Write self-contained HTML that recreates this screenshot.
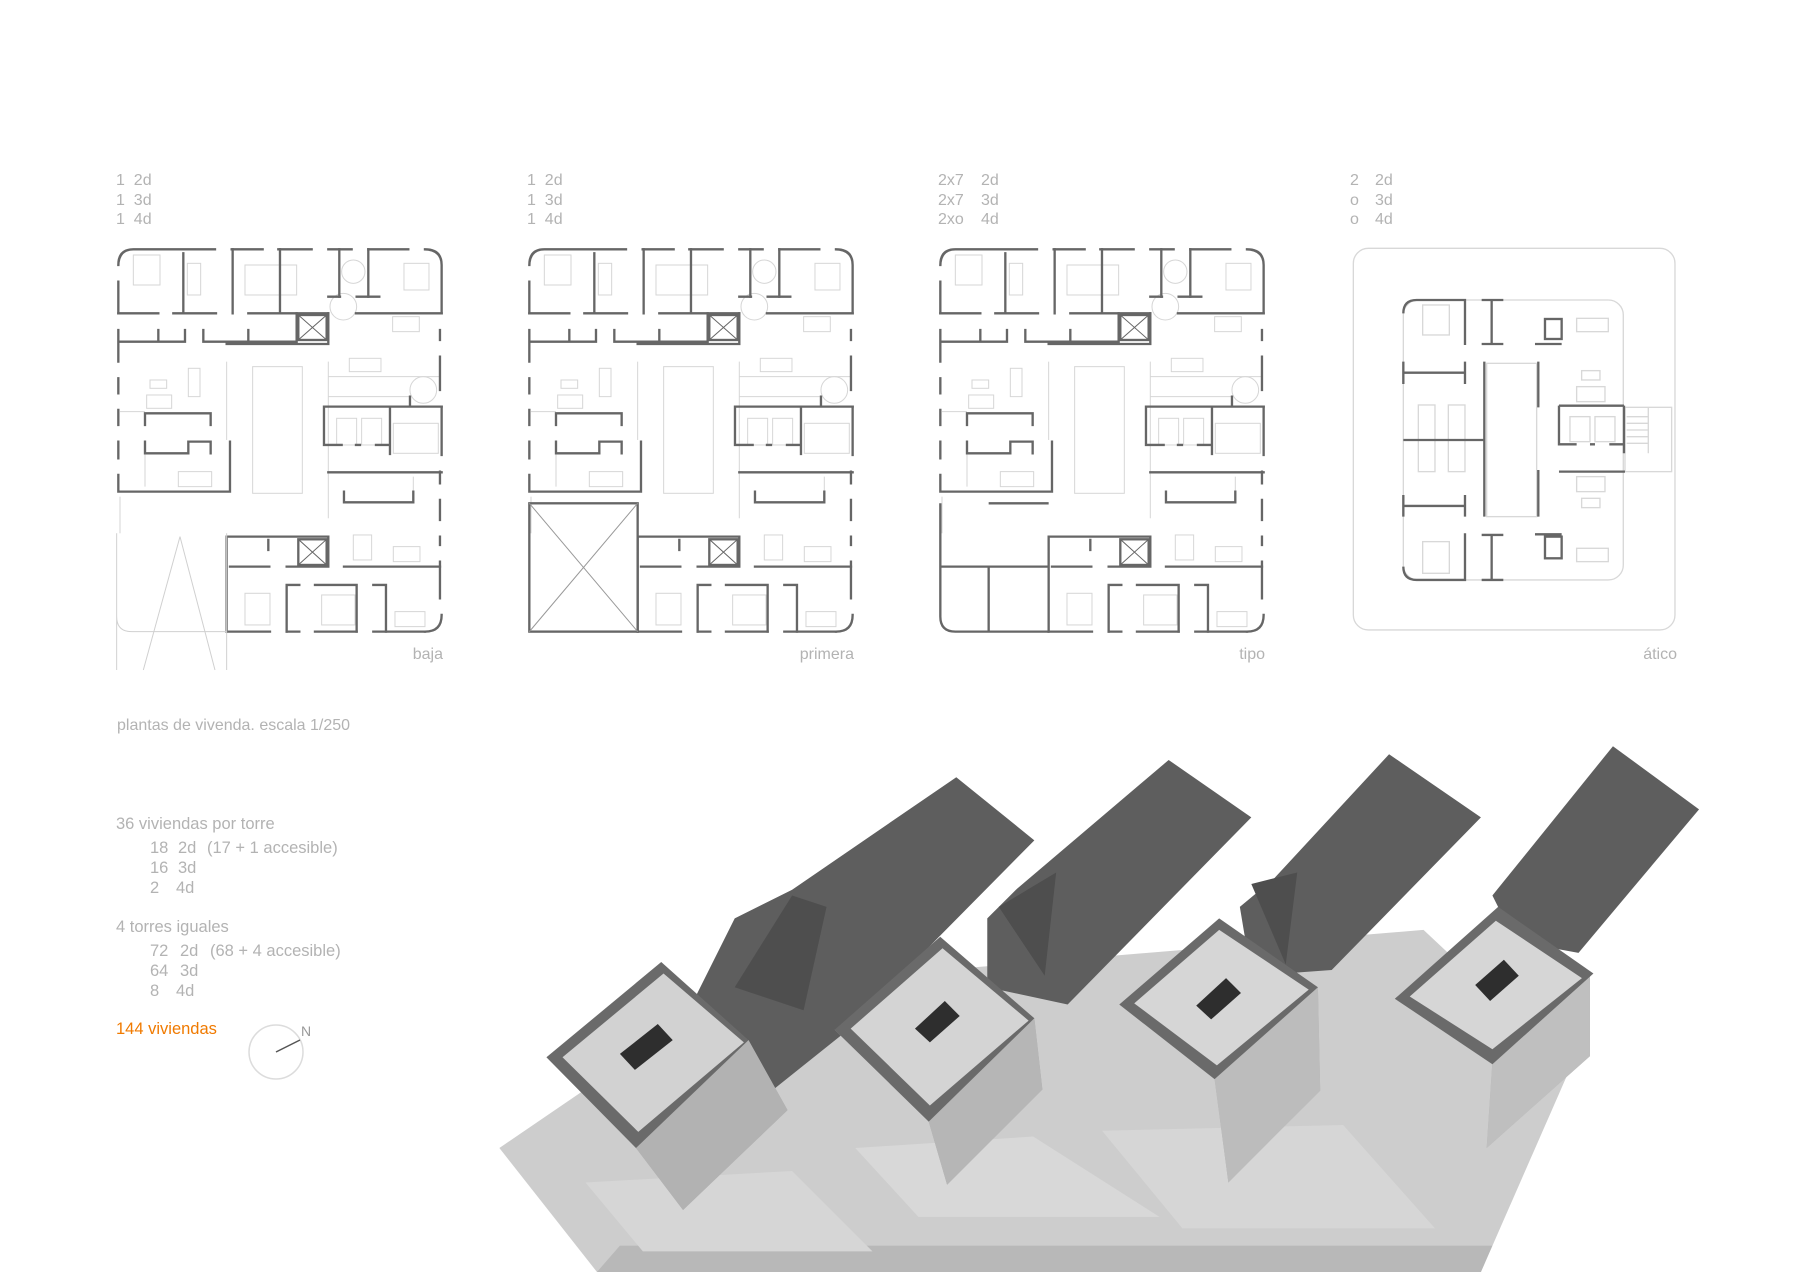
<!DOCTYPE html>
<html><head><meta charset="utf-8"><style>
html,body{margin:0;padding:0;background:#fff;}
svg{display:block}
text{font-family:"Liberation Sans",sans-serif;fill:#b3b3b3;}
</style></head><body>
<svg width="1800" height="1273" viewBox="0 0 1800 1273" xmlns="http://www.w3.org/2000/svg">
<defs>
<g id="plan">
 <g fill="none" stroke="#d6d6d6" stroke-width="3">
  <rect x="458" y="650" width="149" height="380"/>
  <line x1="380" y1="635" x2="380" y2="870"/><line x1="685" y1="635" x2="685" y2="1105"/>
  <rect x="100" y="315" width="80" height="90"/><rect x="262" y="340" width="40" height="95"/>
  <rect x="435" y="345" width="155" height="90"/><rect x="912" y="340" width="75" height="80"/>
  <circle cx="730" cy="470" r="40"/><circle cx="760" cy="365" r="35"/><circle cx="970" cy="720" r="40"/>
  <rect x="878" y="500" width="80" height="45"/><rect x="748" y="625" width="95" height="40"/>
  <rect x="265" y="655" width="35" height="85"/><rect x="140" y="735" width="75" height="40"/>
  <rect x="150" y="690" width="50" height="25"/><rect x="235" y="965" width="100" height="45"/>
  <rect x="710" y="805" width="60" height="80"/><rect x="785" y="805" width="60" height="80"/>
  <line x1="685" y1="680" x2="1020" y2="680"/><line x1="685" y1="740" x2="930" y2="740"/>
  <line x1="60" y1="785" x2="135" y2="785"/><line x1="135" y1="910" x2="135" y2="1010"/>
  <rect x="880" y="820" width="135" height="90"/>
  <rect x="880" y="1190" width="80" height="45"/><rect x="760" y="1155" width="55" height="75"/>
  <rect x="435" y="1330" width="75" height="95"/><rect x="665" y="1335" width="100" height="90"/>
  <rect x="885" y="1385" width="90" height="45"/><line x1="940" y1="980" x2="940" y2="1025"/>
  <line x1="60" y1="1040" x2="60" y2="1150"/>
 </g>
 <g fill="none" stroke="#666" stroke-width="7" stroke-linecap="square">
  <path d="M55 345 Q55 298 100 298 L345 298"/>
  <path d="M395 298H488M535 298H635M685 298H755M805 298H925"/>
  <path d="M975 298 Q1025 298 1025 345 L1025 490"/>
  <path d="M55 395V490M55 540V635M55 685V730M55 780V825M55 875V925"/>
  <path d="M250 310V490M398 298V490M540 298V490M718 298V440M805 298V440"/>
  <path d="M55 490H175M220 490H348M445 490H685M768 490H1025M685 440H720M770 440H838"/>
  <path d="M60 575H255M175 540V575M255 540V575M310 540V575H440M380 582H685M445 540V575H590M590 490V575M685 490V582"/>
  <rect x="595" y="495" width="85" height="75"/><path d="M595 495L680 570M680 495L595 570" stroke-width="3"/>
  <path d="M1020 540V570M1020 620V720M1025 770V915M1020 965V1000M1020 1050V1110M1020 1160V1185M1020 1235V1345"/>
  <path d="M1025 1395 Q1025 1445 975 1445"/>
  <path d="M672 770H1025M672 770V885H725M768 885H780M828 885H870M870 775V912M930 740V770"/>
  <path d="M135 825V790H332V825M135 875V910H265V875H332V910"/>
  <path d="M55 975V1025H390V875"/>
  <path d="M685 967H1025M732 1025V1057H940V1025"/>
  <path d="M380 1160H685M380 1160V1445M685 1160V1250M390 1250H508M560 1250H685M732 1250H1020M505 1170V1200"/>
  <rect x="595" y="1168" width="85" height="77"/><path d="M595 1168L680 1245M680 1168L595 1245" stroke-width="3"/>
  <path d="M380 1445H510M560 1445H598M645 1445H770M820 1445H975"/>
  <path d="M560 1445V1305H598M645 1305H770V1445M820 1305H858V1445"/>
 </g>
</g>
</defs>

<g font-size="16">
 <text x="116" y="185">1&#160;&#160;2d</text><text x="116" y="205">1&#160;&#160;3d</text><text x="116" y="224">1&#160;&#160;4d</text>
 <text x="527" y="185">1&#160;&#160;2d</text><text x="527" y="205">1&#160;&#160;3d</text><text x="527" y="224">1&#160;&#160;4d</text>
 <text x="938" y="185">2x7</text><text x="981" y="185">2d</text>
 <text x="938" y="205">2x7</text><text x="981" y="205">3d</text>
 <text x="938" y="224">2xo</text><text x="981" y="224">4d</text>
 <text x="1350" y="185">2</text><text x="1375" y="185">2d</text>
 <text x="1350" y="205">o</text><text x="1375" y="205">3d</text>
 <text x="1350" y="224">o</text><text x="1375" y="224">4d</text>
 <text x="443" y="659" text-anchor="end">baja</text>
 <text x="854" y="659" text-anchor="end">primera</text>
 <text x="1265" y="659" text-anchor="end">tipo</text>
 <text x="1677" y="659" text-anchor="end">ático</text>
 <text x="117" y="730">plantas de vivenda. escala 1/250</text>
</g>

<g transform="translate(100,150) scale(0.3333)"><use href="#plan"/></g>
<g transform="translate(100,150) scale(0.3333)" fill="none" stroke="#d0d0d0" stroke-width="3">
 <path d="M50 1150V1560M380 1150V1560M50 1150V1400Q50 1445 95 1445H380M240 1160L130 1560M240 1160L345 1560"/>
</g>
<g transform="translate(511,150) scale(0.3333)"><use href="#plan"/>
 <g fill="none" stroke="#666" stroke-width="7"><rect x="55" y="1060" width="325" height="385"/></g>
 <path d="M55 1060L380 1445M380 1060L55 1445" stroke="#999" stroke-width="3"/>
</g>
<g transform="translate(922,150) scale(0.3333)"><use href="#plan"/>
 <g fill="none" stroke="#666" stroke-width="7"><path d="M55 1060V1400Q55 1445 100 1445H380M200 1250V1445M55 1250H380M200 1060H380"/></g>
</g>
<g transform="translate(1340,240) scale(0.3333)">
 <g fill="none" stroke="#d8d8d8" stroke-width="4">
  <rect x="40" y="25" width="965" height="1145" rx="45"/>
  <rect x="190" y="180" width="660" height="840" rx="45"/>
  <rect x="440" y="370" width="150" height="460"/>
  <rect x="855" y="502" width="140" height="193"/>
  <path d="M860 530H925M860 550H925M860 570H925M860 590H925M860 610H925M925 502V640"/>
  <rect x="248" y="195" width="80" height="90"/><rect x="248" y="905" width="80" height="95"/>
  <rect x="235" y="495" width="50" height="200"/><rect x="325" y="495" width="50" height="200"/>
  <rect x="710" y="235" width="95" height="40"/><rect x="725" y="392" width="55" height="28"/>
  <rect x="710" y="440" width="85" height="45"/><rect x="710" y="710" width="85" height="45"/>
  <rect x="725" y="775" width="55" height="28"/><rect x="710" y="925" width="95" height="40"/>
  <rect x="690" y="530" width="60" height="75"/><rect x="765" y="530" width="60" height="75"/>
 </g>
 <g fill="none" stroke="#666" stroke-width="7">
  <path d="M190 220Q190 180 230 180H375V315"/>
  <path d="M425 180H490M455 180V312M425 312H490M585 312H665"/>
  <rect x="615" y="237" width="50" height="60"/>
  <path d="M190 365V432M190 398H375M375 365V432M190 600H430M433 365V830M595 365V502M595 690V830"/>
  <path d="M657 497H852M657 497V613H710M750 613H765M808 613H852M852 497V640M657 695H855"/>
  <path d="M190 765V830M190 798H375M375 765V830"/>
  <path d="M190 980Q190 1020 230 1020H375V880"/>
  <path d="M425 885H490M455 885V1020M425 1020H490M585 883H665"/>
  <rect x="615" y="890" width="50" height="65"/>
 </g>
</g>

<g font-size="16.5">
 <text x="116" y="829">36 viviendas por torre</text>
 <text x="150" y="853">18</text><text x="178" y="853">2d</text><text x="207" y="853">(17 + 1 accesible)</text>
 <text x="150" y="873">16</text><text x="178" y="873">3d</text>
 <text x="150" y="893">2</text><text x="176" y="893">4d</text>
 <text x="116" y="932">4 torres iguales</text>
 <text x="150" y="956">72</text><text x="180" y="956">2d</text><text x="210" y="956">(68 + 4 accesible)</text>
 <text x="150" y="976">64</text><text x="180" y="976">3d</text>
 <text x="150" y="996">8</text><text x="176" y="996">4d</text>
 <text x="116" y="1034" style="fill:#f07a00">144 viviendas</text>
</g>
<circle cx="276" cy="1052" r="27" fill="none" stroke="#dcdcdc" stroke-width="1.5"/>
<line x1="276" y1="1052" x2="300" y2="1040" stroke="#555" stroke-width="1.5"/>
<text x="301" y="1036" font-size="14" style="fill:#999">N</text>

<g transform="scale(1.148)">
 <polygon points="435,1000 640,860 1240,810 1368,930 1290,1108 520,1108" fill="#cdcdcd"/>
 <polygon points="520,1108 1290,1108 1300,1085 540,1085" fill="#b8b8b8"/>
 <polygon points="745,1000 800,1060 1010,1060 900,990" fill="#d8d8d8"/>
 <polygon points="960,985 1030,1070 1250,1070 1170,980" fill="#d6d6d6"/>
 <polygon points="510,1030 560,1090 760,1090 690,1020" fill="#d6d6d6"/>
 <g fill="#5e5e5e">
  <polygon points="600,880 640,800 690,775 833,677 901,732 735,900 660,960"/>
  <polygon points="860,860 860,800 885,775 1018,662 1090,712 930,875"/>
  <polygon points="1090,850 1080,790 1110,765 1210,657 1290,712 1160,845"/>
  <polygon points="1320,820 1300,780 1405,650 1480,705 1375,830"/>
 </g>
 <g fill="#4e4e4e">
  <polygon points="640,860 690,780 720,790 700,880"/>
  <polygon points="870,790 920,760 910,850"/>
  <polygon points="1090,770 1130,760 1120,840"/>
 </g>
 <g>
  <polygon points="476,921 652,906 686,967 595,1054 554,1000" fill="#a4a4a4"/>
  <polygon points="554,1000 652,906 686,967 595,1054" fill="#b2b2b2"/>
  <polygon points="476,921 576,838 652,906 554,1000" fill="#6a6a6a"/>
  <polygon points="490,921 578,848 648,908 556,986" fill="#d2d2d2"/>
  <polygon points="540,918 573,892 586,906 553,932" fill="#2e2e2e"/>

  <polygon points="727,897 901,887 908,949 825,1032 809,977" fill="#a8a8a8"/>
  <polygon points="809,977 901,887 908,949 825,1032" fill="#b6b6b6"/>
  <polygon points="727,897 819,816 901,887 809,977" fill="#6a6a6a"/>
  <polygon points="741,896 821,826 896,889 810,963" fill="#d4d4d4"/>
  <polygon points="797,896 823,872 836,885 810,908" fill="#2e2e2e"/>

  <polygon points="975,875 1148,860 1150,950 1070,1030 1058,940" fill="#b0b0b0"/>
  <polygon points="1058,940 1148,860 1150,950 1070,1030" fill="#bcbcbc"/>
  <polygon points="975,875 1062,800 1148,860 1058,940" fill="#6a6a6a"/>
  <polygon points="988,874 1062,810 1140,862 1060,928" fill="#d6d6d6"/>
  <polygon points="1042,876 1068,852 1081,865 1055,888" fill="#2e2e2e"/>

  <polygon points="1215,870 1385,848 1385,920 1295,1000 1300,925" fill="#b2b2b2"/>
  <polygon points="1300,925 1385,848 1385,920 1295,1000" fill="#bfbfbf"/>
  <polygon points="1215,870 1305,790 1388,848 1300,927" fill="#6a6a6a"/>
  <polygon points="1228,868 1303,802 1378,852 1300,914" fill="#d6d6d6"/>
  <polygon points="1285,858 1310,836 1323,850 1298,872" fill="#2e2e2e"/>
 </g>
</g>
</svg>
</body></html>
